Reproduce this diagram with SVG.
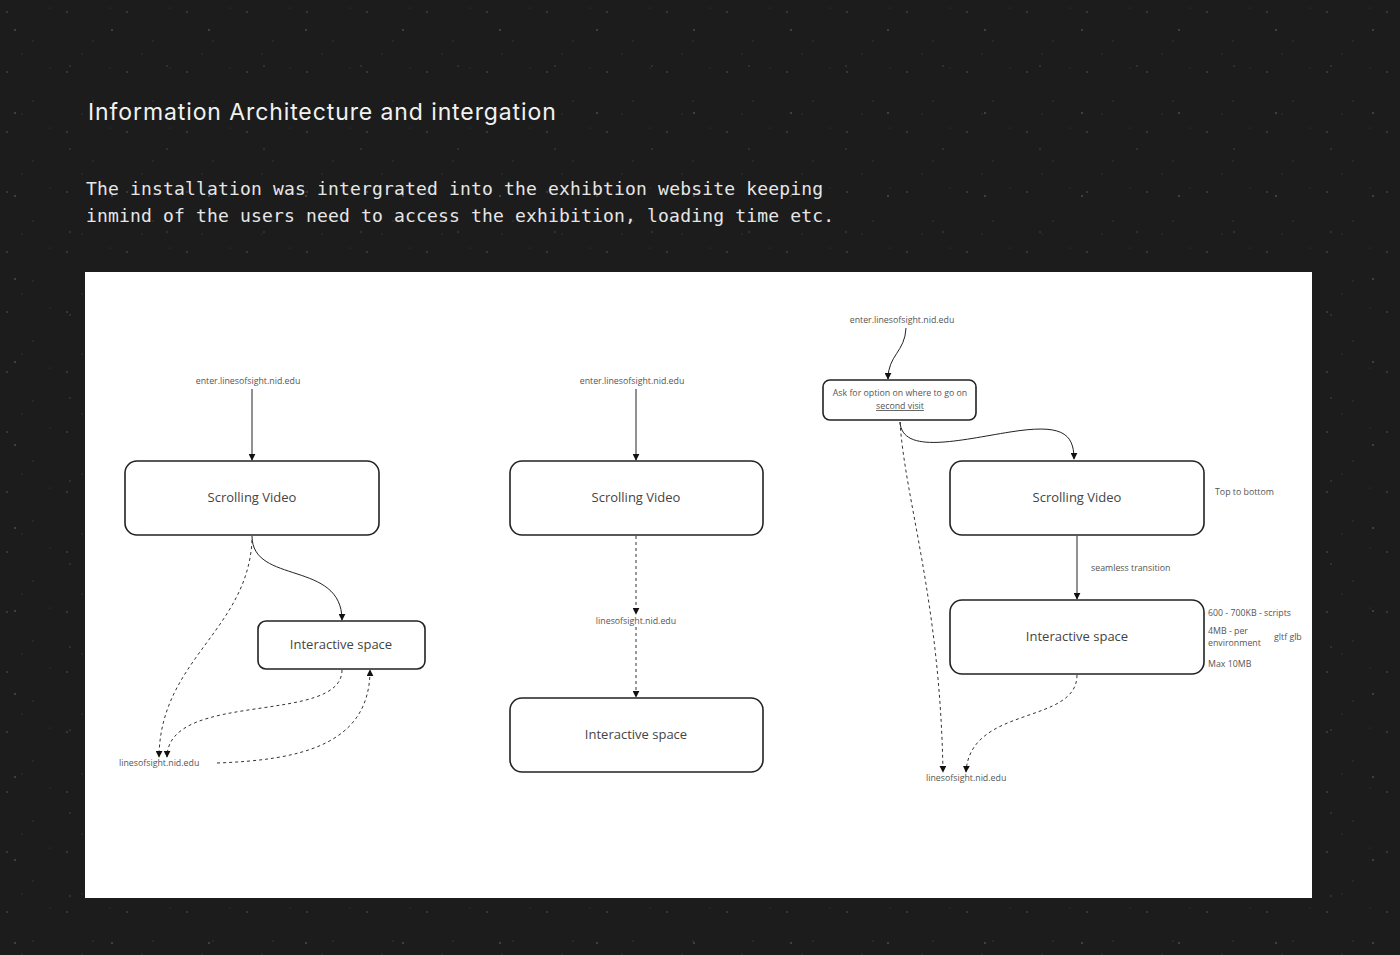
<svg xmlns="http://www.w3.org/2000/svg" width="1400" height="955" viewBox="0 0 1400 955">
<style>
.title{font-family:Inter,"Liberation Sans",sans-serif;font-size:23px;letter-spacing:0.9px;fill:#f2f2f2}
.body{font-family:"DejaVu Sans Mono","Liberation Mono",monospace;font-size:18px;fill:#e6e6e6}
.box{fill:#fff;stroke:#222;stroke-width:1.6}
.nt{font-family:"Open Sans","Noto Sans",sans-serif;font-size:13px;fill:#444;text-anchor:middle}
.sm{font-family:"Open Sans","Noto Sans",sans-serif;font-size:8.8px;fill:#555}
.smc{font-family:"Open Sans","Noto Sans",sans-serif;font-size:8.8px;fill:#555;text-anchor:middle}
.ln{fill:none;stroke:#222;stroke-width:1}
.dl{fill:none;stroke:#333;stroke-width:1;stroke-dasharray:3 3}
</style>
<defs>
<marker id="ah" viewBox="0 0 10 10" refX="9" refY="5" markerWidth="7" markerHeight="7" orient="auto" markerUnits="userSpaceOnUse">
<path d="M0,0 L10,5 L0,10 z" fill="#111"/>
</marker>
<pattern id="speck" width="60" height="60" patternUnits="userSpaceOnUse">
<circle cx="7" cy="12" r="0.9" fill="#444"/>
<circle cx="33" cy="41" r="0.7" fill="#3d3d3d"/>
<circle cx="50" cy="8" r="0.6" fill="#3a3a3a"/>
<circle cx="22" cy="54" r="0.6" fill="#404040"/>
</pattern>
<pattern id="speck2" width="97" height="83" patternUnits="userSpaceOnUse">
<circle cx="15" cy="30" r="1" fill="#4a4a4a"/>
<circle cx="70" cy="66" r="0.8" fill="#454545"/>
</pattern>
</defs>
<rect width="1400" height="955" fill="#1c1c1c"/>
<rect width="1400" height="955" fill="url(#speck)"/>
<rect width="1400" height="955" fill="url(#speck2)"/>
<text class="title" x="88" y="120">Information Architecture and intergation</text>
<text class="body" x="86" y="195" textLength="737">The installation was intergrated into the exhibtion website keeping</text>
<text class="body" x="86" y="222" textLength="748">inmind of the users need to access the exhibition, loading time etc.</text>
<rect x="85" y="272" width="1227" height="626" fill="#fff"/>

<g id="connectors">
<path class="ln" d="M252,389 L252,460" marker-end="url(#ah)"/>
<path class="ln" d="M252,536 C252,585 342,560 342,620" marker-end="url(#ah)"/>
<path class="dl" d="M252,540 C248,630 160,660 159,757" marker-end="url(#ah)"/>
<path class="dl" d="M342,670 C342,725 168,690 167,757" marker-end="url(#ah)"/>
<path class="dl" d="M217,763 C300,760 370,745 370,670" marker-end="url(#ah)"/>

<path class="ln" d="M636,389 L636,460" marker-end="url(#ah)"/>
<path class="dl" d="M636,536 L636,614" marker-end="url(#ah)"/>
<path class="dl" d="M636,627 L636,697" marker-end="url(#ah)"/>

<path class="ln" d="M906,328 C905,352 888,355 888,379" marker-end="url(#ah)"/>
<path class="ln" d="M900,422 C902,455 960,440 1010,432 C1060,424 1074,432 1074,459" marker-end="url(#ah)"/>
<path class="dl" d="M900,422 C905,500 940,600 943,772" marker-end="url(#ah)"/>
<path class="ln" d="M1077,536 L1077,599" marker-end="url(#ah)"/>
<path class="dl" d="M1077,675 C1077,725 970,705 966,772" marker-end="url(#ah)"/>
</g>

<g id="labels">
<text class="smc" x="248" y="384">enter.linesofsight.nid.edu</text>
<text class="sm" x="119" y="766">linesofsight.nid.edu</text>
<text class="smc" x="632" y="384">enter.linesofsight.nid.edu</text>
<text class="smc" x="636" y="624">linesofsight.nid.edu</text>
<text class="smc" x="902" y="323">enter.linesofsight.nid.edu</text>
<text class="sm" x="1215" y="495">Top to bottom</text>
<text class="sm" x="1091" y="571">seamless transition</text>
<text class="sm" x="1208" y="616">600 - 700KB - scripts</text>
<text class="sm" x="1208" y="634">4MB - per</text>
<text class="sm" x="1208" y="646">environment</text>
<text class="sm" x="1274" y="640">gltf glb</text>
<text class="sm" x="1208" y="667">Max 10MB</text>
<text class="sm" x="926" y="781">linesofsight.nid.edu</text>
</g>

<g id="n1-scroll"><rect class="box" x="125" y="461" width="254" height="74" rx="12"/><text class="nt" x="252" y="502">Scrolling Video</text></g>
<g id="n1-inter"><rect class="box" x="258" y="621" width="167" height="48" rx="8"/><text class="nt" x="341" y="649">Interactive space</text></g>
<g id="n2-scroll"><rect class="box" x="510" y="461" width="253" height="74" rx="12"/><text class="nt" x="636" y="502">Scrolling Video</text></g>
<g id="n2-inter"><rect class="box" x="510" y="698" width="253" height="74" rx="12"/><text class="nt" x="636" y="739">Interactive space</text></g>
<g id="n3-ask"><rect class="box" x="823" y="380" width="153" height="40" rx="7"/>
<text class="smc" x="900" y="396">Ask for option on where to go on</text>
<text class="smc" x="900" y="409" text-decoration="underline">second visit</text></g>
<g id="n3-scroll"><rect class="box" x="950" y="461" width="254" height="74" rx="12"/><text class="nt" x="1077" y="502">Scrolling Video</text></g>
<g id="n3-inter"><rect class="box" x="950" y="600" width="254" height="74" rx="12"/><text class="nt" x="1077" y="641">Interactive space</text></g>
</svg>
